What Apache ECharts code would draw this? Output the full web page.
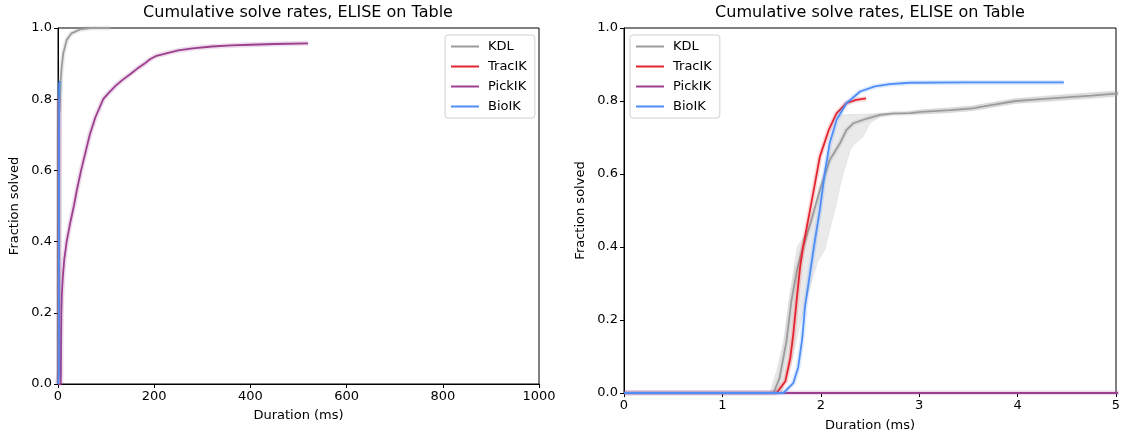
<!DOCTYPE html>
<html>
<head>
<meta charset="utf-8">
<script src="https://cdn.jsdelivr.net/npm/echarts@6/dist/echarts.min.js"></script>
<style>html,body{margin:0;padding:0;background:#fff;}#c{width:1126px;height:441px;}</style>
</head>
<body>
<div id="c"></div>
<script>
// ---- data (duration in ms, fraction solved) ----
const seriesNames = ['KDL', 'TracIK', 'PickIK', 'BioIK'];
const kdl = [[0,0],[1.52,0],[1.58,0.04],[1.65,0.14],[1.70,0.25],[1.76,0.34],[1.82,0.40],[1.90,0.47],[1.99,0.556],[2.09,0.638],[2.195,0.684],[2.26,0.72],[2.33,0.739],[2.47,0.752],[2.60,0.762],[2.74,0.766],[2.91,0.767],[3.02,0.77],[3.32,0.775],[3.54,0.78],[3.76,0.79],[3.98,0.80],[4.24,0.805],[4.49,0.81],[4.75,0.815],[5.0,0.82],[5.5,0.85],[7.6,0.89],[11,0.929],[18,0.966],[28,0.985],[46,0.996],[67,1.0],[109,1.0]];
const tracik = [[0,0],[1.55,0],[1.64,0.032],[1.69,0.096],[1.72,0.16],[1.755,0.255],[1.79,0.346],[1.82,0.40],[1.91,0.529],[1.99,0.647],[2.08,0.72],[2.16,0.766],[2.26,0.794],[2.36,0.803],[2.46,0.807]];
const pickik = [[0,0],[5.8,0],[6.3,0.1],[7,0.2],[8,0.25],[10,0.3],[13,0.35],[18,0.4],[25,0.45],[33,0.5],[40,0.55],[48,0.6],[57,0.65],[66,0.7],[78,0.75],[94,0.8],[105,0.817],[120,0.838],[135,0.855],[150,0.87],[165,0.886],[180,0.9],[192,0.913],[205,0.922],[225,0.929],[250,0.937],[280,0.943],[320,0.948],[360,0.951],[400,0.953],[450,0.955],[520,0.957]];
const bioik = [[0,0],[1.62,0],[1.72,0.027],[1.77,0.07],[1.81,0.146],[1.84,0.237],[1.89,0.328],[1.93,0.40],[1.99,0.502],[2.04,0.602],[2.09,0.684],[2.16,0.748],[2.26,0.794],[2.40,0.826],[2.55,0.840],[2.70,0.846],[2.90,0.850],[3.5,0.851],[4.47,0.851]];
// KDL confidence band edges (upper-left edge and lower-right edge)
const kdlBandUpper = [[1.48,0],[1.55,0.06],[1.62,0.14],[1.69,0.28],[1.76,0.40],[1.87,0.447],[1.96,0.529],[2.04,0.611],[2.11,0.684],[2.14,0.72],[2.21,0.762],[2.80,0.767],[3.02,0.776],[3.32,0.782],[3.54,0.787],[3.76,0.797],[3.98,0.807],[4.24,0.813],[4.49,0.818],[4.75,0.823],[5.0,0.828]];
const kdlBandLower = [[1.60,0],[1.70,0.08],[1.80,0.2],[1.90,0.3],[1.97,0.36],[2.04,0.392],[2.09,0.447],[2.16,0.52],[2.21,0.584],[2.30,0.666],[2.33,0.679],[2.43,0.702],[2.50,0.739],[2.60,0.757],[2.74,0.763],[2.91,0.764],[3.02,0.764],[3.32,0.768],[3.54,0.773],[3.76,0.783],[3.98,0.793],[4.24,0.797],[4.49,0.802],[4.75,0.807],[5.0,0.812]];
const leftXTicks = {min: 0, max: 1000, interval: 200};
const rightXTicks = {min: 0, max: 5, interval: 1};
const yTicks = {min: 0, max: 1, interval: 0.2};
const titleText = 'Cumulative solve rates, ELISE on Table';

const colors = {KDL: '#9b9b9b', TracIK: '#e3242f', PickIK: '#9c3f8e', BioIK: '#4f8ef6'};
const dataMap = {KDL: kdl, TracIK: tracik, PickIK: pickik, BioIK: bioik};
const FONT = 'DejaVu Sans';

function xAxis(gi, t) {
  return {
    type: 'value', gridIndex: gi, min: t.min, max: t.max, interval: t.interval,
    name: 'Duration (ms)', nameLocation: 'middle', nameGap: gi === 0 ? 25 : 26,
    nameTextStyle: {fontFamily: FONT, fontSize: 13, color: '#000'},
    axisLine: {show: true, onZero: false, lineStyle: {color: '#000', width: 1}},
    axisTick: {show: true, length: 4, lineStyle: {color: '#000'}},
    axisLabel: {fontFamily: FONT, fontSize: 13, color: '#000', margin: 6, formatter: v => String(v)},
    splitLine: {show: false}
  };
}
function yAxis(gi) {
  return {
    type: 'value', gridIndex: gi, min: yTicks.min, max: yTicks.max, interval: yTicks.interval,
    name: 'Fraction solved', nameLocation: 'middle', nameGap: 37, nameRotate: 90,
    nameTextStyle: {fontFamily: FONT, fontSize: 13, color: '#000'},
    axisLine: {show: true, onZero: false, lineStyle: {color: '#000', width: 1}},
    axisTick: {show: true, length: 4, lineStyle: {color: '#000'}},
    axisLabel: {fontFamily: FONT, fontSize: 13, color: '#000', margin: 6, formatter: v => v.toFixed(1)},
    splitLine: {show: false}
  };
}

const series = [];
// KDL band on right plot
series.push({
  type: 'custom', xAxisIndex: 1, yAxisIndex: 1, silent: true, clip: true, z: 1,
  data: [[0, 0]],
  renderItem: function (params, api) {
    const pts = kdlBandUpper.map(p => api.coord(p)).concat(kdlBandLower.slice().reverse().map(p => api.coord(p)));
    return {type: 'polygon', shape: {points: pts}, style: {fill: 'rgba(160,160,160,0.22)', stroke: 'rgba(160,160,160,0.15)', lineWidth: 1}};
  }
});
[0, 1].forEach(gi => {
  seriesNames.forEach((n, i) => {
    series.push({
      type: 'line', xAxisIndex: gi, yAxisIndex: gi, data: dataMap[n], symbol: 'none', silent: true,
      lineStyle: {color: colors[n], width: 5, opacity: 0.18}, z: 2 + i * 2, animation: false
    });
    series.push({
      name: n, type: 'line', xAxisIndex: gi, yAxisIndex: gi, data: dataMap[n], symbol: 'none',
      lineStyle: {color: colors[n], width: 1.8}, itemStyle: {color: colors[n]}, z: 3 + i * 2, animation: false
    });
  });
});

function legend(left) {
  return {
    data: seriesNames.map(n => ({name: n, icon: 'rect'})), orient: 'vertical', left: left, top: 35,
    itemWidth: 28, itemHeight: 2, itemGap: 5,
    padding: [4, 8, 4, 6], backgroundColor: '#fff', borderColor: '#d0d0d0', borderWidth: 1, borderRadius: 3,
    textStyle: {fontFamily: FONT, fontSize: 13, color: '#000', padding: [0, 0, 0, 4], lineHeight: 15},
    selectedMode: false
  };
}

const chart = echarts.init(document.getElementById('c'), null, {renderer: 'canvas'});
chart.setOption({
  animation: false,
  backgroundColor: '#fff',
  grid: [
    {left: 58, right: 1126 - 539, top: 28, bottom: 441 - 384, show: true, borderColor: '#000', borderWidth: 1, backgroundColor: 'transparent'},
    {left: 624, right: 1126 - 1116, top: 28, bottom: 441 - 393, show: true, borderColor: '#000', borderWidth: 1, backgroundColor: 'transparent'}
  ],
  xAxis: [xAxis(0, leftXTicks), xAxis(1, rightXTicks)],
  yAxis: [yAxis(0), yAxis(1)],
  legend: [legend(445), legend(630)],
  graphic: [
    {type: 'text', x: 298, y: 13, style: {text: titleText, fontFamily: FONT, fontSize: 16, fill: '#000', textAlign: 'center', textVerticalAlign: 'middle'}},
    {type: 'text', x: 870, y: 13, style: {text: titleText, fontFamily: FONT, fontSize: 16, fill: '#000', textAlign: 'center', textVerticalAlign: 'middle'}}
  ],
  series: series
});
</script>
</body>
</html>
